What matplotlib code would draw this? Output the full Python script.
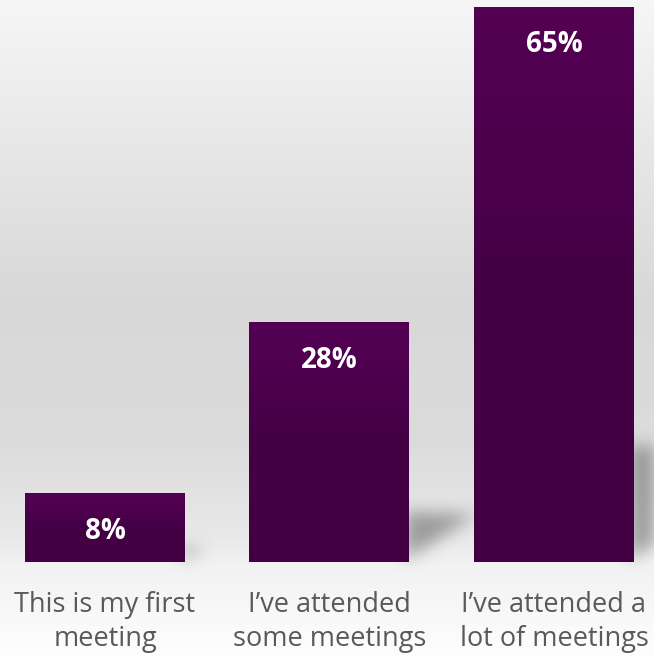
import numpy as np
import matplotlib.pyplot as plt
from matplotlib.path import Path
from matplotlib.colors import LinearSegmentedColormap

categories = ["This is my first\nmeeting", "I\u2019ve attended\nsome meetings", "I\u2019ve attended a\nlot of meetings"]
values = [8, 28, 65]
labels = ["8%", "28%", "65%"]

W, H = 654, 658
fig = plt.figure(figsize=(W / 100, H / 100), dpi=100)

# background: grey wall gradient and a lighter floor
bg = fig.add_axes([0, 0, 1, 1], zorder=0)
stops = [(0.0, "#f6f6f6"), (0.46, "#d8d8d8"), (0.68, "#dcdcdc"),
         (0.82, "#e9e9e9"), (0.86, "#f2f2f2"), (1.0, "#fefefe")]
cmap_bg = LinearSegmentedColormap.from_list("bg", stops)
grad = np.linspace(0, 1, 512).reshape(-1, 1)
bg.imshow(grad, aspect="auto", cmap=cmap_bg, extent=[0, W, 0, H], origin="upper")
bg.set_xlim(0, W)
bg.set_ylim(0, H)
bg.axis("off")

ax = fig.add_axes([0, 96 / H, 1, 562 / H], zorder=1)
ax.patch.set_alpha(0)
x = np.arange(len(values))
width = 160 / 224.5
xlim = (-105 / 224.5, (W - 105) / 224.5)
ylim = (0, 562 / (555 / 65))

cmap_bar = LinearSegmentedColormap.from_list("bar", ["#420042", "#440044", "#540054"])
bars = ax.bar(x, values, width=width, color="#4a004a", zorder=2)
for b in bars:
    x0, y0 = b.get_x(), b.get_y()
    ax.imshow(np.linspace(0, 1, 100).reshape(-1, 1), aspect="auto", cmap=cmap_bar,
              extent=[x0, x0 + b.get_width(), y0, y0 + b.get_height()],
              origin="lower", zorder=3)
ax.set_xlim(*xlim)
ax.set_ylim(*ylim)

# soft cast shadows on the floor, derived from each bar's geometry
fig.canvas.draw()
yy, xx = np.mgrid[0:H, 0:W]
pts = np.column_stack([xx.ravel() + 0.5, yy.ravel() + 0.5])
mask = np.zeros(H * W)
for b in bars:
    (xl, yb), (xr, yt) = ax.transData.transform([(b.get_x(), 0),
                                                 (b.get_x() + b.get_width(), b.get_height())])
    h = yt - yb
    d = 0.21 * h
    e = 0.28 * h
    tri = Path([(xr - 4, yb + 2), (xr - 4, yb + d), (xr + e, yb + d * 0.95), (xr - 4, yb + 2)])
    mask = np.maximum(mask, tri.contains_points(pts).astype(float))
mask = mask.reshape(H, W)
k = np.exp(-0.5 * (np.arange(-24, 25) / 8.0) ** 2)
k /= k.sum()
mask = np.apply_along_axis(lambda r: np.convolve(r, k, mode="same"), 1, mask)
mask = np.apply_along_axis(lambda c: np.convolve(c, k, mode="same"), 0, mask)
shadow = np.zeros((H, W, 4))
shadow[..., :3] = 0.25
shadow[..., 3] = np.clip(mask * 0.45, 0, 1)
bg.imshow(shadow, extent=[0, W, 0, H], origin="lower", aspect="auto", zorder=2)
bg.set_xlim(0, W)
bg.set_ylim(0, H)

for xi, v, lab in zip(x, values, labels):
    ax.annotate(lab, (xi, v), xytext=(0, -27), textcoords="offset points",
                ha="center", va="center", color="white", fontsize=20,
                fontweight="bold", family="Open Sans", zorder=4)

for xi, cat in zip(x, categories):
    ax.annotate(cat, (xi, 0), xytext=(0, -43), textcoords="offset points",
                ha="center", va="center", color="#595959", fontsize=19.5,
                family="Open Sans", linespacing=1.3, annotation_clip=False)

ax.axis("off")
fig.savefig("out.png", dpi=100)
